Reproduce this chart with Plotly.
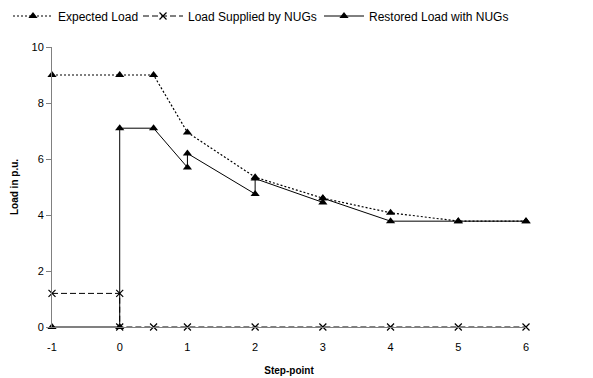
import plotly.graph_objects as go

# Data
exp_x = [-1, 0, 0.5, 1, 2, 3, 4, 5, 6]
exp_y = [9.0, 9.0, 9.0, 6.95, 5.35, 4.6, 4.08, 3.78, 3.78]

nug_x = [-1, 0, 0, 0.5, 1, 2, 3, 4, 5, 6]
nug_y = [1.2, 1.2, 0, 0, 0, 0, 0, 0, 0, 0]

res_x = [-1, 0, 0, 0.5, 1, 1, 2, 2, 3, 3, 4, 5, 6]
res_y = [0, 0, 7.1, 7.1, 5.7, 6.2, 4.75, 5.3, 4.45, 4.6, 3.78, 3.78, 3.78]

x_ticks = [-1, 0, 1, 2, 3, 4, 5, 6]
y_ticks = [0, 2, 4, 6, 8, 10]

FONT = "Liberation Sans, Arial, sans-serif"

# the page body adds an 8px offset, so the figure is 8px smaller than the window
W, H = 585, 370

fig = go.Figure()
fig.add_trace(go.Scatter(
    x=exp_x, y=exp_y, name="Expected Load", mode="lines+markers",
    line=dict(color="black", width=1.2, dash="2px,2px"),
    marker=dict(symbol="triangle-up", size=8, color="black"),
    cliponaxis=False, legend="legend"))
fig.add_trace(go.Scatter(
    x=nug_x, y=nug_y, name="Load Supplied by NUGs", mode="lines+markers",
    line=dict(color="black", width=1, dash="6px,3px"),
    marker=dict(symbol="x-thin-open", size=7, color="black",
                line=dict(color="black", width=1.2)),
    cliponaxis=False, legend="legend2"))
fig.add_trace(go.Scatter(
    x=res_x, y=res_y, name="Restored Load with NUGs", mode="lines+markers",
    line=dict(color="black", width=1),
    marker=dict(symbol="triangle-up", size=8, color="black"),
    cliponaxis=False, legend="legend3"))

leg_common = dict(orientation="h", xref="container", yref="container",
                  y=1 - 8 / H, xanchor="left", yanchor="middle",
                  font=dict(size=12), itemwidth=40,
                  bgcolor="rgba(0,0,0,0)")

fig.update_layout(
    width=W, height=H,
    margin=dict(l=44, r=67, t=39, b=51),
    paper_bgcolor="white", plot_bgcolor="white",
    font=dict(family=FONT, size=11, color="black"),
    showlegend=True,
    legend=dict(x=0.0, **leg_common),
    legend2=dict(x=130 / W, **leg_common),
    legend3=dict(x=311 / W, **leg_common),
    xaxis=dict(range=[-1, 6], tickvals=x_ticks, ticktext=[str(v) for v in x_ticks],
               showgrid=False, zeroline=False, showline=True, automargin=False,
               linecolor="#808080", linewidth=1, ticks="", ticklabelstandoff=10,
               title=dict(text="<b>Step-point</b>", font=dict(size=10), standoff=14)),
    yaxis=dict(range=[0, 10], tickvals=y_ticks, ticktext=[str(v) for v in y_ticks],
               showgrid=False, zeroline=False, showline=True, automargin=False,
               linecolor="#808080", linewidth=1, ticks="outside", ticklen=5,
               tickcolor="#808080",
               title=dict(text="<b>Load in p.u.</b>", font=dict(size=10), standoff=11)),
)

fig.write_html("out.html")
